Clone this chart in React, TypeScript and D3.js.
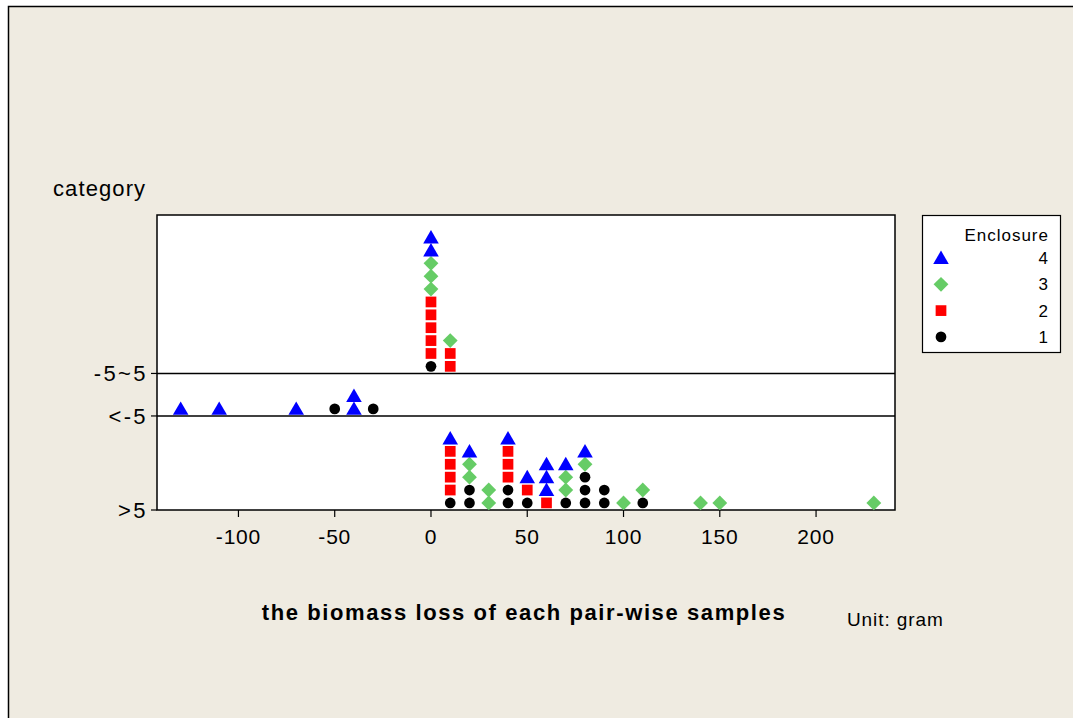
import * as d3 from "d3";

// rows of the dotplot, bottom to top
const categories = [">5", "<-5", "-5~5"];
const enclosures = ["1", "2", "3", "4"];
const enclosureColors = ["#000000", "#ff0000", "#66cc66", "#0000ff"];
const enclosureShapes = ["circle", "square", "diamond", "triangle"];
const xTicks = [-100, -50, 0, 50, 100, 150, 200];
const xDomain = [-142.3, 241];

// biomass loss values per enclosure and category
const enclosure1: Record<string, number[]> = {
  ">5": [10, 20, 20, 40, 40, 50, 70, 80, 80, 80, 90, 90, 110],
  "<-5": [-50, -30],
  "-5~5": [0],
};
const enclosure2: Record<string, number[]> = {
  ">5": [10, 10, 10, 10, 40, 40, 40, 50, 60],
  "<-5": [],
  "-5~5": [0, 0, 0, 0, 0, 10, 10],
};
const enclosure3: Record<string, number[]> = {
  ">5": [20, 20, 30, 30, 70, 70, 80, 100, 110, 140, 150, 230],
  "<-5": [],
  "-5~5": [0, 0, 0, 10],
};
const enclosure4: Record<string, number[]> = {
  ">5": [10, 20, 40, 50, 60, 60, 60, 70, 80],
  "<-5": [-130, -110, -70, -40, -40],
  "-5~5": [0, 0],
};
const enclosureData = [enclosure1, enclosure2, enclosure3, enclosure4];

const W = 1073;
const H = 718;
const plot = { left: 157, right: 895, top: 215, bottom: 510 };
const rowPad = 1.3;
const font = "'Liberation Sans', Arial, sans-serif";

function symbolPath(shape: string) {
  if (shape === "circle") return d3.symbol(d3.symbolCircle, 90)()!;
  if (shape === "square") return d3.symbol(d3.symbolSquare, 115)()!;
  if (shape === "diamond") return d3.symbol(d3.symbolSquare, 110)()!;
  return d3.symbol(d3.symbolTriangle, 105)()!;
}

function Marker({ shape, color, x, y }: { shape: string; color: string; x: number; y: number }) {
  const rot = shape === "diamond" ? " rotate(45)" : "";
  const dy = shape === "triangle" ? 1.5 : 0;
  return <path d={symbolPath(shape)} fill={color} transform={`translate(${x},${y + dy})${rot}`} />;
}

export default function App() {
  const x = d3.scaleLinear().domain(xDomain).range([plot.left, plot.right]);

  // stack dots per category and value, enclosure 1 at bottom
  type Dot = { cat: string; v: number; e: number; level: number };
  const dots: Dot[] = [];
  const maxStack: Record<string, number> = {};
  categories.forEach((cat) => {
    const counts = new Map<number, number>();
    enclosureData.forEach((ed, e) => {
      ed[cat].forEach((v) => {
        const level = counts.get(v) ?? 0;
        counts.set(v, level + 1);
        dots.push({ cat, v, e, level });
      });
    });
    maxStack[cat] = d3.max(Array.from(counts.values())) ?? 0;
  });

  const baseSlot: Record<string, number> = {};
  let acc = 0;
  categories.forEach((cat) => {
    baseSlot[cat] = acc;
    acc += maxStack[cat] + rowPad;
  });
  const y = d3.scaleLinear().domain([0, acc]).range([plot.bottom, plot.top]);

  const legendItems = enclosures.map((name, i) => ({ name, i })).reverse();

  return (
    <svg width={W} height={H} style={{ position: "absolute", left: 0, top: 0 }} fontFamily={font}>
      <rect x={0} y={0} width={W} height={H} fill="#ffffff" />
      <rect x={8.5} y={6.5} width={W + 20} height={H + 20} fill="#efebe1" stroke="#000" strokeWidth={1.5} />

      {/* plot frame */}
      <rect
        x={plot.left}
        y={plot.top}
        width={plot.right - plot.left}
        height={plot.bottom - plot.top}
        fill="#ffffff"
        stroke="#000"
        strokeWidth={1.5}
      />
      {categories.slice(1).map((cat) => (
        <line key={cat} x1={plot.left} x2={plot.right} y1={y(baseSlot[cat])} y2={y(baseSlot[cat])} stroke="#000" strokeWidth={1.5} />
      ))}

      {/* y axis */}
      {categories.map((cat) => (
        <g key={cat} transform={`translate(${plot.left},${y(baseSlot[cat])})`}>
          <line x1={-6} x2={0} stroke="#000" strokeWidth={1.2} />
          <text x={-9} dy="0.36em" textAnchor="end" fontSize={22} letterSpacing={2.4}>
            {cat}
          </text>
        </g>
      ))}
      <text x={53} y={196} fontSize={22} letterSpacing={1.1}>
        category
      </text>

      {/* x axis */}
      {xTicks.map((t) => (
        <g key={t} transform={`translate(${x(t)},${plot.bottom})`}>
          <line y1={0} y2={7} stroke="#000" strokeWidth={1.2} />
          <text y={34} textAnchor="middle" fontSize={21} letterSpacing={0.8}>
            {t}
          </text>
        </g>
      ))}
      <text x={524} y={620} textAnchor="middle" fontSize={22} fontWeight="bold" letterSpacing={1.6}>
        the biomass loss of each pair-wise samples
      </text>
      <text x={847} y={626} fontSize={19} letterSpacing={0.9}>
        Unit: gram
      </text>

      {/* dots */}
      {dots.map((d, i) => (
        <Marker
          key={i}
          shape={enclosureShapes[d.e]}
          color={enclosureColors[d.e]}
          x={x(d.v)}
          y={y(baseSlot[d.cat] + d.level + 0.55)}
        />
      ))}

      {/* legend */}
      <g transform="translate(922,215)">
        <rect x={0.5} y={0.5} width={138} height={137} fill="#ffffff" stroke="#000" strokeWidth={1.2} />
        <text x={127} y={26} textAnchor="end" fontSize={17} letterSpacing={1}>
          Enclosure
        </text>
        {legendItems.map((it, k) => (
          <g key={it.name} transform={`translate(0,${43 + k * 26.3})`}>
            <Marker shape={enclosureShapes[it.i]} color={enclosureColors[it.i]} x={19} y={0} />
            <text x={126} dy="0.36em" textAnchor="end" fontSize={17}>
              {it.name}
            </text>
          </g>
        ))}
      </g>
    </svg>
  );
}
